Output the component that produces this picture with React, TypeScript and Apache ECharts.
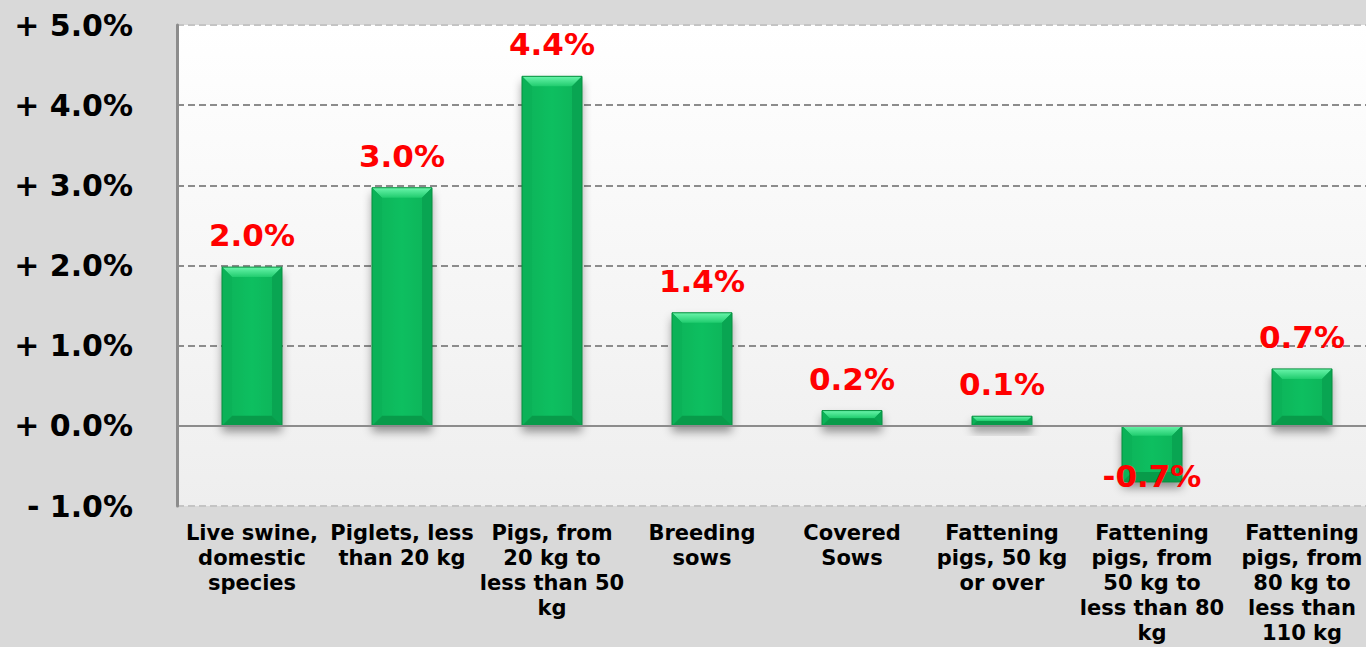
import React, { useEffect, useRef } from "react";
import * as echarts from "echarts";

const categories = [
  "Live swine,\ndomestic\nspecies",
  "Piglets, less\nthan 20 kg",
  "Pigs, from\n20 kg to\nless than 50\nkg",
  "Breeding\nsows",
  "Covered\nSows",
  "Fattening\npigs, 50 kg\nor over",
  "Fattening\npigs, from\n50 kg to\nless than 80\nkg",
  "Fattening\npigs, from\n80 kg to\nless than\n110 kg",
];

const changes = [1.98, 2.97, 4.36, 1.41, 0.19, 0.12, -0.7, 0.71];

const yMin = -1;
const yMax = 5;
const yInterval = 1;

const FONT = "'DejaVu Sans', Verdana, sans-serif";

export default function App() {
  const ref = useRef<HTMLDivElement>(null);

  useEffect(() => {
    if (!ref.current) return;
    const chart = echarts.init(ref.current, undefined, { renderer: "svg" });

    const renderItem = (params: any, api: any) => {
      const idx = api.value(0);
      const v = api.value(1);
      const p0 = api.coord([idx, 0]);
      const p1 = api.coord([idx, v]);
      const bw = api.size([1, 0])[0] * 0.4;
      const x0 = p0[0] - bw / 2;
      const x1 = x0 + bw;
      const yTop = Math.min(p0[1], p1[1]);
      const yBot = Math.max(p0[1], p1[1]);
      const h = yBot - yTop;
      const b = Math.min(10, h / 2);
      const label = v.toFixed(1) + "%";
      const ly = v >= 0 ? yTop - 32 : yBot - 6;
      return {
        type: "group",
        children: [
          {
            type: "rect",
            shape: { x: x0, y: yTop, width: bw, height: h },
            style: {
              fill: new echarts.graphic.LinearGradient(0, 0, 1, 0, [
                { offset: 0, color: "#08a24f" },
                { offset: 0.15, color: "#0cb65a" },
                { offset: 0.5, color: "#0fbf60" },
                { offset: 0.85, color: "#0cb65a" },
                { offset: 1, color: "#07a04d" },
              ]),
              shadowColor: "rgba(0,0,0,0.4)",
              shadowBlur: 10,
              shadowOffsetY: 6,
            },
          },
          {
            type: "polygon",
            shape: {
              points: [
                [x0, yTop],
                [x1, yTop],
                [x1 - b, yTop + b],
                [x0 + b, yTop + b],
              ],
            },
            style: {
              fill: new echarts.graphic.LinearGradient(0, 0, 0, 1, [
                { offset: 0, color: "#6af5ab" },
                { offset: 1, color: "#20cc6e" },
              ]),
            },
          },
          {
            type: "polygon",
            shape: {
              points: [
                [x0, yBot],
                [x1, yBot],
                [x1 - b, yBot - b],
                [x0 + b, yBot - b],
              ],
            },
            style: { fill: "#089b4a" },
          },
          {
            type: "polygon",
            shape: {
              points: [
                [x0, yTop],
                [x0 + b, yTop + b],
                [x0 + b, yBot - b],
                [x0, yBot],
              ],
            },
            style: { fill: "#0bb258" },
          },
          {
            type: "polygon",
            shape: {
              points: [
                [x1, yTop],
                [x1 - b, yTop + b],
                [x1 - b, yBot - b],
                [x1, yBot],
              ],
            },
            style: { fill: "#09a552" },
          },
          {
            type: "rect",
            shape: { x: x0, y: yTop, width: bw, height: h },
            style: { fill: "none", stroke: "#07903f", lineWidth: 1 },
          },
          {
            type: "text",
            style: {
              text: label,
              x: p0[0],
              y: ly,
              align: "center",
              verticalAlign: "middle",
              fill: "#ff0000",
              font: `bold 31px ${FONT}`,
            },
          },
        ],
      };
    };

    chart.setOption({
      animation: false,
      backgroundColor: "#d9d9d9",
      grid: {
        left: 177,
        top: 25,
        width: 1200,
        height: 481,
        outerBoundsMode: "none",
        containLabel: false,
        show: true,
        borderWidth: 0,
        backgroundColor: new echarts.graphic.LinearGradient(0, 0, 0, 1, [
          { offset: 0, color: "#ffffff" },
          { offset: 1, color: "#eeeeee" },
        ]),
      },
      xAxis: {
        type: "category",
        data: categories,
        axisLine: { show: false, onZero: false },
        axisTick: { show: false },
        axisLabel: {
          interval: 0,
          margin: 14,
          color: "#000",
          fontFamily: FONT,
          fontWeight: "bold",
          fontSize: 21,
          lineHeight: 25,
          align: "center",
        },
        splitLine: { show: false },
      },
      yAxis: {
        type: "value",
        min: yMin,
        max: yMax,
        interval: yInterval,
        axisLine: { show: true, lineStyle: { color: "#8c8c8c", width: 3 } },
        axisTick: { show: false },
        axisLabel: {
          margin: 44,
          color: "#000",
          fontFamily: FONT,
          fontWeight: "bold",
          fontSize: 30,
          formatter: (val: number) =>
            (val < 0 ? "- " : "+ ") + Math.abs(val).toFixed(1) + "%",
        },
        splitLine: {
          show: true,
          lineStyle: {
            type: [7, 4],
            width: 2,
            color: ["#c4c4c4", "#8c8c8c", "#8c8c8c", "#8c8c8c", "#8c8c8c", "#8c8c8c", "#c4c4c4"],
          },
        },
      },
      series: [
        {
          type: "custom",
          renderItem,
          data: changes.map((v, i) => [i, v]),
          encode: { x: 0, y: 1 },
          clip: false,
          z: 3,
          markLine: {
            silent: true,
            symbol: "none",
            label: { show: false },
            lineStyle: { type: "solid", color: "#8c8c8c", width: 2 },
            data: [{ yAxis: 0 }],
          },
        },
      ],
    });

    return () => chart.dispose();
  }, []);

  return (
    <div
      ref={ref}
      style={{ position: "absolute", left: 0, top: 0, width: 1366, height: 647 }}
    />
  );
}
